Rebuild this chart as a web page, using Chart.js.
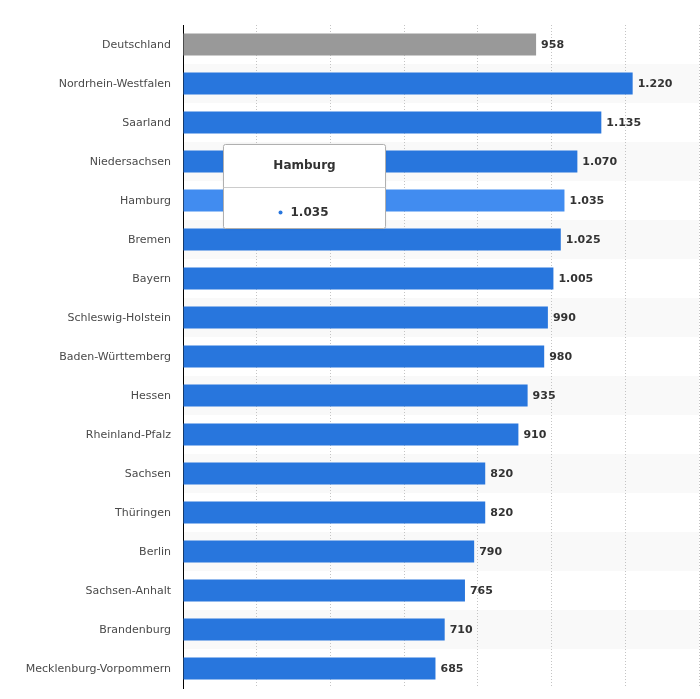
<!DOCTYPE html>
<html>
<head>
<meta charset="utf-8">
<script src="https://cdn.jsdelivr.net/npm/chart.js@4/dist/chart.umd.min.js"></script>
<style>
  html, body { margin: 0; padding: 0; background: #fff; overflow: hidden; }
  canvas { display: block; }
</style>
</head>
<body>
<canvas id="chart" width="700" height="699"></canvas>
<script>
var regions = ['Deutschland', 'Nordrhein-Westfalen', 'Saarland', 'Niedersachsen', 'Hamburg', 'Bremen',
  'Bayern', 'Schleswig-Holstein', 'Baden-Württemberg', 'Hessen', 'Rheinland-Pfalz', 'Sachsen',
  'Thüringen', 'Berlin', 'Sachsen-Anhalt', 'Brandenburg', 'Mecklenburg-Vorpommern'];
var values = [958, 1220, 1135, 1070, 1035, 1025, 1005, 990, 980, 935, 910, 820, 820, 790, 765, 710, 685];
var xTicks = [0, 200, 400, 600, 800, 1000, 1200, 1400];

var activeIndex = 4; // Hamburg hovered in the screenshot
var fontFamily = '"DejaVu Sans", Verdana, sans-serif';

function fmt(n) {
  return String(n).replace(/\B(?=(\d{3})+(?!\d))/g, '.');
}

var barColors = values.map(function (v, i) {
  if (i == 0) return '#999999';
  if (i == activeIndex) return '#418cf0';
  return '#2876dd';
});

// alternating row background
var stripes = {
  id: 'stripes',
  beforeDraw: function (chart) {
    var c = chart.ctx, area = chart.chartArea, y = chart.scales.y;
    var step = (area.bottom - area.top) / regions.length;
    c.save();
    c.fillStyle = '#f9f9f9';
    for (var i = 1; i < regions.length; i += 2) {
      var cy = y.getPixelForValue(i);
      c.fillRect(area.left, cy - step / 2, area.right - area.left, step);
    }
    c.restore();
  }
};

// value labels at bar ends
var barLabels = {
  id: 'barLabels',
  afterDatasetsDraw: function (chart) {
    var c = chart.ctx;
    var meta = chart.getDatasetMeta(0);
    c.save();
    c.font = 'bold 11px ' + fontFamily;
    c.fillStyle = '#333333';
    c.textBaseline = 'middle';
    c.textAlign = 'left';
    meta.data.forEach(function (bar, i) {
      c.fillText(fmt(values[i]), bar.x + 5, bar.y + 1);
    });
    c.restore();
  }
};

// static tooltip like the hovered state
var fakeTooltip = {
  id: 'fakeTooltip',
  afterDraw: function (chart) {
    var c = chart.ctx, area = chart.chartArea;
    var bar = chart.getDatasetMeta(0).data[activeIndex];
    var w = 162, h = 84;
    var x = Math.round(area.left + 40) + 0.5, y = Math.round(bar.y - 57) + 0.5;
    c.save();
    c.shadowColor = 'rgba(0,0,0,0.08)';
    c.shadowBlur = 3;
    c.fillStyle = '#ffffff';
    c.beginPath();
    c.roundRect(x, y, w, h, 2);
    c.fill();
    c.shadowColor = 'transparent';
    c.strokeStyle = '#b0b0b0';
    c.lineWidth = 1;
    c.stroke();
    c.beginPath();
    c.moveTo(x, y + 43);
    c.lineTo(x + w, y + 43);
    c.strokeStyle = '#cccccc';
    c.stroke();
    c.fillStyle = '#333333';
    c.font = 'bold 12px ' + fontFamily;
    c.textAlign = 'center';
    c.textBaseline = 'middle';
    c.fillText(regions[activeIndex], x + w / 2, y + 21);
    var txt = fmt(values[activeIndex]);
    var tw = c.measureText(txt).width;
    c.textAlign = 'left';
    var tx = x + w / 2 - tw / 2 + 5;
    c.fillText(txt, tx, y + 68);
    c.fillStyle = '#2876dd';
    c.beginPath();
    c.arc(tx - 10, y + 68, 2, 0, Math.PI * 2);
    c.fill();
    c.restore();
  }
};

var ctx = document.getElementById('chart').getContext('2d');
var myChart = new Chart(ctx, {
  type: 'bar',
  data: {
    labels: regions,
    datasets: [{
      data: values,
      backgroundColor: barColors,
      borderWidth: 0,
      categoryPercentage: 1,
      barPercentage: 0.57
    }]
  },
  options: {
    indexAxis: 'y',
    responsive: false,
    animation: false,
    events: [],
    layout: { padding: { top: 25, bottom: 11, left: 0, right: 1 } },
    plugins: {
      legend: { display: false },
      tooltip: { enabled: false }
    },
    scales: {
      x: {
        min: 0,
        max: 1400,
        afterBuildTicks: function (axis) {
          axis.ticks = xTicks.map(function (v) { return { value: v }; });
        },
        afterFit: function (axis) { axis.height = 0; },
        ticks: { display: false },
        grid: { color: '#c4c4c4', lineWidth: 1, drawTicks: false },
        border: { display: false, dash: [1, 2] }
      },
      y: {
        afterFit: function (axis) {
          axis.width = 183;
          // tick padding would otherwise push the plot up from the bottom
          axis.paddingTop = 0;
          axis.paddingBottom = 0;
        },
        ticks: {
          color: '#4a4a4a',
          padding: 12,
          labelOffset: 1,
          font: { family: fontFamily, size: 11 }
        },
        grid: { display: false, drawTicks: false },
        border: { display: true, color: '#000000', width: 1 }
      }
    }
  },
  plugins: [stripes, barLabels, fakeTooltip]
});
</script>
</body>
</html>
